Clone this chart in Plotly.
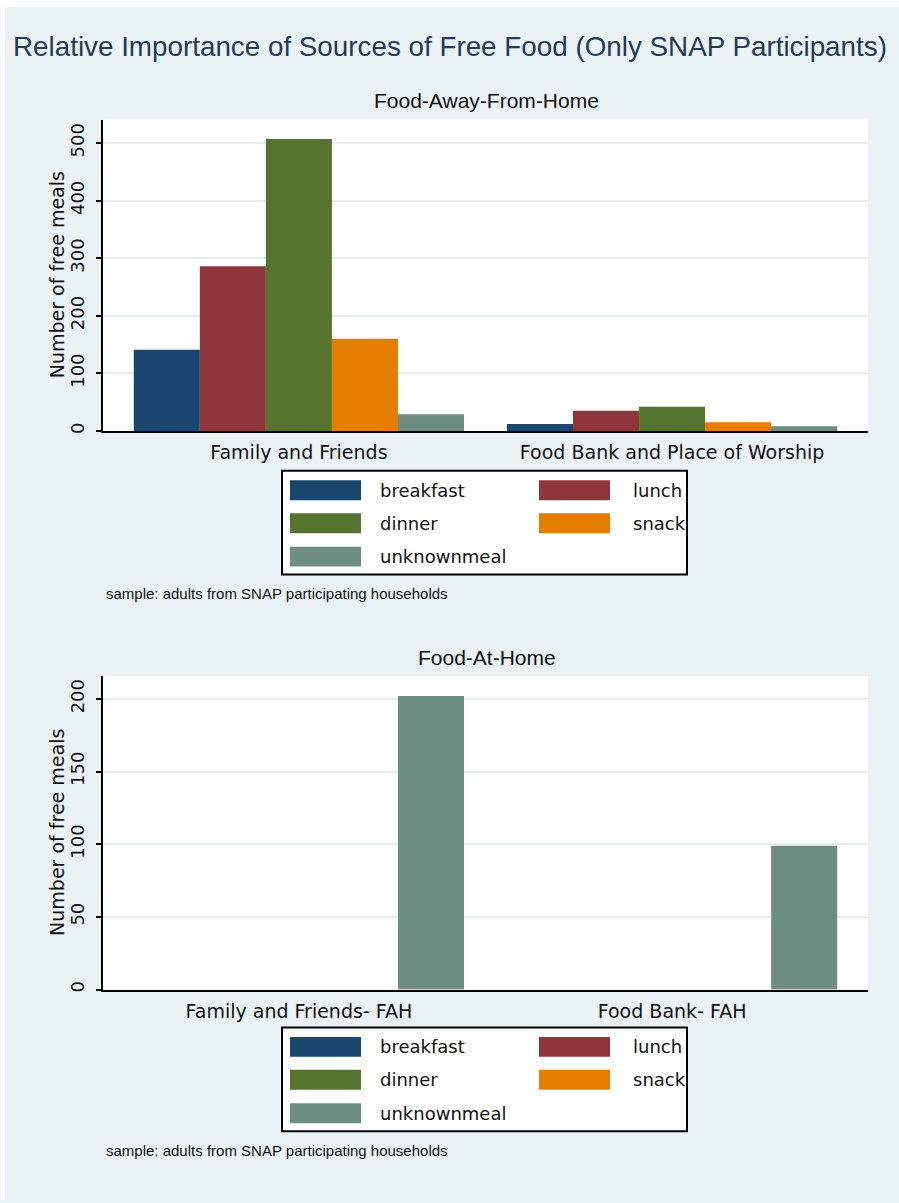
import plotly.graph_objects as go

# ---- data ---------------------------------------------------------------
meal_types = ["breakfast", "lunch", "dinner", "snack", "unknownmeal"]
meal_colors = ["#1a476f", "#90353b", "#55752f", "#e37e00", "#6e8e84"]

# Food-away-from-home: free meals by source
fafh_sources = ["Family and Friends", "Food Bank and Place of Worship"]
fafh_breakfast = [141, 12]
fafh_lunch = [286, 35]
fafh_dinner = [507, 42]
fafh_snack = [160, 15]
fafh_unknownmeal = [29, 8]

# Food-at-home: free meals by source
fah_sources = ["Family and Friends- FAH", "Food Bank- FAH"]
fah_breakfast = [0, 0]
fah_lunch = [0, 0]
fah_dinner = [0, 0]
fah_snack = [0, 0]
fah_unknownmeal = [202, 99]

fafh_ticks = [0, 100, 200, 300, 400, 500]
fah_ticks = [0, 50, 100, 150, 200]

main_title = "Relative Importance of Sources of Free Food (Only SNAP Participants)"
panel_titles = ["Food-Away-From-Home", "Food-At-Home"]
y_title = "Number of free meals"
note_text = "sample: adults from SNAP participating households"

fafh_series = [fafh_breakfast, fafh_lunch, fafh_dinner, fafh_snack, fafh_unknownmeal]
fah_series = [fah_breakfast, fah_lunch, fah_dinner, fah_snack, fah_unknownmeal]

# ---- page geometry (pixels) ---------------------------------------------
W, H = 899, 1203
BG = "#eaf2f3"
GRID = "#e4edf0"
TICK_FONT = dict(family="DejaVu Sans", size=19, color="#111111")
HEAD_FONT = "Liberation Sans, Arial, sans-serif"


def px_x(x):
    return x / W


def px_y(y):
    return 1 - y / H


plot_left, plot_right = 103, 868
panels = [
    dict(top=120, bottom=432, ymax=540.4, ticks=fafh_ticks),
    dict(top=678, bottom=992, ymax=215.5, ticks=fah_ticks),
]

fig = go.Figure()

for i, meal in enumerate(meal_types):
    fig.add_trace(go.Bar(
        x=fafh_sources, y=fafh_series[i], name=meal,
        marker=dict(color=meal_colors[i], line=dict(width=0)),
        xaxis="x", yaxis="y", showlegend=False,
    ))
    fig.add_trace(go.Bar(
        x=fah_sources, y=fah_series[i], name=meal,
        marker=dict(color=meal_colors[i], line=dict(width=0)),
        xaxis="x2", yaxis="y2", showlegend=False,
    ))

layout = dict(
    width=W, height=H, autosize=False,
    margin=dict(l=0, r=0, t=0, b=0),
    paper_bgcolor=BG, plot_bgcolor="white",
    barmode="group", bargap=0.115, bargroupgap=0,
    showlegend=False,
)

shapes = []
annotations = []

for k, p in enumerate(panels):
    sfx = "" if k == 0 else str(k + 1)
    layout["xaxis" + sfx] = dict(
        domain=[px_x(plot_left), px_x(plot_right)],
        anchor="y" + sfx, type="category", range=[-0.525, 1.525],
        showline=True, linecolor="black", linewidth=1.5,
        ticks="", showgrid=False, zeroline=False,
        tickfont=TICK_FONT, ticklabelstandoff=4, fixedrange=True,
    )
    layout["yaxis" + sfx] = dict(
        domain=[px_y(p["bottom"]), px_y(p["top"])],
        anchor="x" + sfx, range=[0, p["ymax"]],
        tickmode="array", tickvals=p["ticks"],
        ticktext=[str(v) for v in p["ticks"]], tickangle=-90,
        ticks="outside", ticklen=5, tickwidth=1.5, tickcolor="black",
        showline=True, linecolor="black", linewidth=1.5,
        showgrid=True, gridcolor=GRID, gridwidth=1.5, zeroline=False,
        tickfont=dict(family="DejaVu Sans", size=18, color="#111111"),
        ticklabelstandoff=5, fixedrange=True,
    )
    # panel heading
    annotations.append(dict(
        x=px_x((plot_left + plot_right) / 2 + 1), y=px_y(p["top"] - 19),
        xref="paper", yref="paper", xanchor="center", yanchor="middle",
        text=panel_titles[k], showarrow=False,
        font=dict(family=HEAD_FONT, size=21, color="#111111"),
    ))
    # vertical axis title
    annotations.append(dict(
        x=px_x(57), y=px_y((p["top"] + p["bottom"]) / 2),
        xref="paper", yref="paper", xanchor="center", yanchor="middle",
        text=y_title, textangle=-90, showarrow=False,
        font=dict(family="DejaVu Sans", size=19, color="#111111"),
    ))

    # legend box below the panel
    box_top = p["bottom"] + 40 if k == 0 else p["bottom"] + 38
    box_left, box_right = 282, 687
    shapes.append(dict(
        type="rect", xref="paper", yref="paper",
        x0=px_x(box_left), x1=px_x(box_right),
        y0=px_y(box_top + 104), y1=px_y(box_top),
        fillcolor="white", line=dict(color="black", width=2),
    ))
    swatch_x = [290, 539]
    label_x = [378, 631]
    row_off = [19.5, 52.5, 86]
    for i, meal in enumerate(meal_types):
        r, c = divmod(i, 2)
        cy = box_top + row_off[r]
        shapes.append(dict(
            type="rect", xref="paper", yref="paper",
            x0=px_x(swatch_x[c]), x1=px_x(swatch_x[c] + 71),
            y0=px_y(cy + 10), y1=px_y(cy - 10),
            fillcolor=meal_colors[i], line=dict(width=0),
        ))
        annotations.append(dict(
            x=px_x(label_x[c]), y=px_y(cy), xref="paper", yref="paper",
            xanchor="left", yanchor="middle", text=meal, showarrow=False,
            font=dict(family="DejaVu Sans", size=18, color="#111111"),
        ))
    # sample note
    annotations.append(dict(
        x=px_x(104), y=px_y(box_top + 123), xref="paper", yref="paper",
        xanchor="left", yanchor="middle", text=note_text, showarrow=False,
        font=dict(family=HEAD_FONT, size=15, color="#111111"),
    ))

# main heading
annotations.append(dict(
    x=px_x(11), y=px_y(47), xref="paper", yref="paper",
    xanchor="left", yanchor="middle", text=main_title, showarrow=False,
    font=dict(family=HEAD_FONT, size=27.8, color="#233a58"),
))

# thin white margin along the top and left edges of the page
shapes.append(dict(type="rect", xref="paper", yref="paper",
                   x0=0, x1=1, y0=px_y(7), y1=1,
                   fillcolor="white", line=dict(width=0), layer="below"))
shapes.append(dict(type="rect", xref="paper", yref="paper",
                   x0=0, x1=px_x(5), y0=0, y1=1,
                   fillcolor="white", line=dict(width=0), layer="below"))

layout["shapes"] = shapes
layout["annotations"] = annotations
fig.update_layout(**layout)

fig.write_html("out.html")
